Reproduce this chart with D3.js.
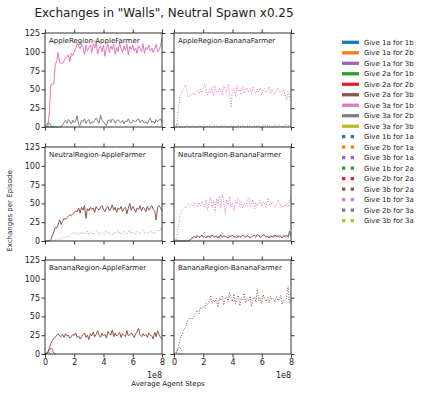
<!DOCTYPE html>
<meta charset="utf-8">
<title>Exchanges in Walls</title>
<style>
    body { margin: 0; background: #fff; }
    text { font-family: "DejaVu Sans", sans-serif; fill: #222; }
    .tick line { stroke: #333; }
    .domain { display: none; }
</style>
<svg width="423" height="394"></svg>
<script src="https://d3js.org/d3.v7.min.js"></script>
<script>

    // one value every 1e7 agent steps, 0 .. 8e8
    var STEP = 1e7;

    // AppleRegion-AppleFarmer
    var aaGive3a1b = [0,0,1,20,56,57,57,83,87,99, 86,84,85,88,92,93,96,87,98,95, 100,104,111,108,104,110,107,96,109,101,
        106,109,99,111,105,112,97,104,108,100, 109,94,105,111,99,108,103,110,97,106, 100,112,104,99,108,102,110,96,107,103,
        109,101,105,98,108,104,100,111,98,106, 103,109,101,105,99,104,110,100,103,108, 118];
    var aaGive3a2b = [0,0,0,0,0,0,0,0,0,0, 0,0,3,6,9,5,10,7,4,9, 6,8,15,3,2,9,7,11,5,8, 10,4,7,6,9,12,8,5,16,9,
        7,4,2,8,10,6,11,9,5,8, 10,7,6,9,4,8,7,11,6,5, 9,8,7,10,11,6,9,8,5,7, 4,9,12,6,8,5,10,7,9,11, 6];
    var aaGive2a1b = [0,2,6,5,2,0,0];

    // AppleRegion-BananaFarmer
    var abGive1b3a = [0,0,3,22,40,43,48,52,56,46, 40,42,44,45,42,47,49,44,50,46, 52,57,48,43,50,45,53,41,55,47,
        44,52,48,42,55,50,46,57,44,26, 48,52,40,55,47,50,43,54,45,49, 52,46,51,44,53,48,45,50,47,52,
        43,49,51,46,48,53,45,50,47,44, 49,52,46,48,45,50,43,36,47,39, 44];
    var abGive2b3a = [0,0,0,0,0,0,0,0,1,2, 1,0,1,2,1,1,0,2,1,1, 2,0,1,1,2,1,0,1,2,1, 1,0,1,2,1,2,1,0,1,1,
        2,1,0,1,2,1,1,2,1,0, 1,2,1,1,0,2,1,1,2,0, 1,2,3,1,1,2,1,0,1,2, 1,1,2,1,0,1,2,3,2,1, 1];
    var abGive1b2a = [0,2,4,3,1,0];

    // NeutralRegion-AppleFarmer
    var naGive2a3b = [0,0,0,0,2,8,12,18,17,22, 28,22,26,30,29,31,33,35,34,36, 38,40,39,44,37,45,41,47,30,43,
        40,45,42,44,38,46,43,41,45,47, 42,39,44,46,40,43,48,41,45,38, 44,42,46,39,43,45,36,44,50,41,
        46,43,38,44,42,47,40,45,43,39, 46,41,44,47,42,40,28,45,47,44, 40];
    var naGive1b3a = [0,0,0,0,0,0,0,1,1,2, 2,3,4,5,5,6,6,8,9,10, 12,9,11,8,10,12,9,11,10,13, 8,11,12,9,10,13,11,8,12,10,
        9,11,13,10,12,9,8,11,10,12, 14,9,11,10,13,12,9,11,15,10, 12,11,9,13,11,10,12,14,11,10, 12,11,13,12,10,11,14,13,15,16, 15];

    // NeutralRegion-BananaFarmer
    var nbGive2a3b = [0,0,0,0,0,0,0,0,0,0, 0,1,3,5,6,4,7,5,6,8, 5,6,4,7,6,5,8,6,5,7, 4,6,8,5,7,6,5,4,7,6,
        8,5,6,4,7,5,6,8,6,5, 7,6,4,5,7,8,6,9,7,5, 6,8,7,5,6,4,7,6,5,8, 6,7,5,6,4,7,6,8,5,13, 7];
    var nbGive1b2a = [0,1,2,1,0];
    var nbGive1b3a = [0,0,5,20,33,40,42,45,44,48, 50,46,49,47,52,48,45,51,47,53, 49,44,55,41,50,58,44,53,38,56,
        47,60,43,62,52,36,55,48,59,45, 51,40,54,49,57,46,52,44,50,47, 53,58,45,49,55,43,51,47,50,54,
        46,52,48,44,57,50,46,53,49,45, 48,55,50,47,44,48,46,50,45,52, 60];
    var nbGive2b3a = [0,0,0,0,0,0,0,0,0,0, 1,2,4,3,6,5,8,4,7,5, 9,12,6,5,4,7,6,8,5,6, 7,4,9,12,6,5,7,8,5,6,
        4,7,5,8,6,7,5,4,6,8, 7,5,6,9,5,7,4,6,8,5, 7,9,8,6,5,7,4,6,8,5, 7,6,9,5,6,8,4,7,6,10, 8];

    // BananaRegion-AppleFarmer
    var baGive1a2b = [0,2,3,2,0];
    var baGive1a3b = [0,0,2,5,8,6,1,0];
    var baGive2a3b = [0,0,3,8,14,18,21,22,25,27, 24,23,26,22,27,24,25,21,23,26, 25,28,22,24,20,23,26,28,22,25,
        19,27,24,29,23,26,31,25,22,28, 24,26,21,30,27,25,32,23,28,24, 26,29,22,27,25,23,31,24,26,28,
        25,22,27,30,34,25,23,27,24,26, 22,28,25,24,20,29,23,31,26,22, 20];

    // BananaRegion-BananaFarmer
    var bbGive2b1a = [0,2,3,2,1,0];
    var bbGive3b1a = [0,1,4,8,9,5,1,0];
    var bbGive3b2a = [0,0,3,10,18,24,28,33,36,42, 47,46,48,47,52,55,58,54,62,60, 63,61,68,66,70,78,67,72,69,74,
        62,75,71,78,65,73,76,69,82,74, 70,80,67,73,78,64,75,72,81,68, 74,70,77,63,72,76,69,86,71,74,
        67,79,73,70,75,68,77,72,74,69, 76,71,73,78,66,72,70,75,90,68, 72];

    var legendNames = ["Give 1a for 1b", "Give 1a for 2b", "Give 1a for 3b", "Give 2a for 1b", "Give 2a for 2b",
        "Give 2a for 3b", "Give 3a for 1b", "Give 3a for 2b", "Give 3a for 3b",
        "Give 1b for 1a", "Give 2b for 1a", "Give 3b for 1a", "Give 1b for 2a", "Give 2b for 2a",
        "Give 3b for 2a", "Give 1b for 3a", "Give 2b for 3a", "Give 3b for 3a"];
    var legendColors = ["#1f77b4", "#ff7f0e", "#9467bd", "#2ca02c", "#d62728", "#8c564b", "#e377c2", "#7f7f7f", "#bcbd22"];

    var yTicks = [0, 25, 50, 75, 100, 125];
    var xTicks = [0, 2e8, 4e8, 6e8, 8e8];

    // s = index into legendNames
    var panels = [
        { title: "AppleRegion-AppleFarmer", row: 0, col: 0, lines: [[3, aaGive2a1b], [6, aaGive3a1b], [7, aaGive3a2b]] },
        { title: "AppleRegion-BananaFarmer", row: 0, col: 1, lines: [[12, abGive1b2a], [15, abGive1b3a], [16, abGive2b3a]] },
        { title: "NeutralRegion-AppleFarmer", row: 1, col: 0, lines: [[5, naGive2a3b], [15, naGive1b3a]] },
        { title: "NeutralRegion-BananaFarmer", row: 1, col: 1, lines: [[5, nbGive2a3b], [12, nbGive1b2a], [15, nbGive1b3a], [16, nbGive2b3a]] },
        { title: "BananaRegion-AppleFarmer", row: 2, col: 0, lines: [[1, baGive1a2b], [2, baGive1a3b], [5, baGive2a3b]] },
        { title: "BananaRegion-BananaFarmer", row: 2, col: 1, lines: [[10, bbGive2b1a], [11, bbGive3b1a], [14, bbGive3b2a]] }
    ];

    var svg = d3.select("svg");
    var colX = [45, 174], rowY = [33, 147, 260];
    var pw = 117, ph = 94;

    var x = d3.scaleLinear().domain([0, 8e8]).range([0, pw]);
    var y = d3.scaleLinear().domain([0, 125]).range([ph, 0]);

    svg.append("text")
        .attr("x", 164).attr("y", 17)
        .attr("text-anchor", "middle")
        .style("font-size", "12px")
        .text('Exchanges in "Walls", Neutral Spawn x0.25');

    panels.forEach(function (p) {
        var g = svg.append("g")
            .attr("transform", "translate(" + colX[p.col] + "," + rowY[p.row] + ")");

        p.lines.forEach(function (l) {
            var idx = l[0];
            var line = d3.line()
                .x(function (d, i) { return x(i * STEP); })
                .y(function (d) { return y(d); });
            g.append("path")
                .datum(l[1])
                .attr("d", line)
                .attr("fill", "none")
                .attr("stroke", legendColors[idx % 9])
                .attr("stroke-width", 1)
                .attr("stroke-dasharray", idx >= 9 ? "1,1.6" : null);
        });

        var showY = p.col == 0, showX = p.row == 2;

        var left = g.append("g").call(d3.axisLeft(y).tickValues(yTicks).tickSize(3.5).tickSizeOuter(0)
            .tickFormat(showY ? d3.format("d") : ""));
        g.append("g").attr("transform", "translate(" + pw + ",0)")
            .call(d3.axisRight(y).tickValues(yTicks).tickSize(3.5).tickSizeOuter(0).tickFormat(""));
        g.append("g").call(d3.axisTop(x).tickValues(xTicks).tickSize(3.5).tickSizeOuter(0).tickFormat(""));
        var bottom = g.append("g").attr("transform", "translate(0," + ph + ")")
            .call(d3.axisBottom(x).tickValues(xTicks).tickSize(3.5).tickSizeOuter(0)
                .tickFormat(showX ? function (d) { return d / 1e8; } : ""));

        left.selectAll("text").style("font-size", "8px").attr("x", -5).style("font-family", "DejaVu Sans");
        bottom.selectAll("text").style("font-size", "8px").attr("y", 5.5).style("font-family", "DejaVu Sans");

        g.append("rect")
            .attr("width", pw).attr("height", ph)
            .attr("fill", "none").attr("stroke", "#333").attr("stroke-width", 1);

        g.append("text")
            .attr("x", 4).attr("y", 10)
            .style("font-size", "7px")
            .text(p.title);

        if (showX) {
            g.append("text")
                .attr("x", pw).attr("y", ph + 24)
                .attr("text-anchor", "end")
                .style("font-size", "8px")
                .text("1e8");
        }
    });

    svg.append("text")
        .attr("x", 168).attr("y", 386)
        .attr("text-anchor", "middle")
        .style("font-size", "7px")
        .text("Average Agent Steps");

    svg.append("text")
        .attr("transform", "translate(12,211) rotate(-90)")
        .attr("text-anchor", "middle")
        .style("font-size", "7px")
        .text("Exchanges per Episode");

    var legend = svg.append("g").attr("transform", "translate(342,42.3)");
    legendNames.forEach(function (name, i) {
        var row = legend.append("g").attr("transform", "translate(0," + (i * 10.49) + ")");
        row.append("line")
            .attr("x1", 0).attr("x2", 17)
            .attr("stroke", legendColors[i % 9])
            .attr("stroke-width", 3.3)
            .attr("stroke-dasharray", i >= 9 ? "3.3,5.4" : null);
        row.append("text")
            .attr("x", 22).attr("y", 2.5)
            .style("font-size", "7px")
            .text(name);
    });

</script>
